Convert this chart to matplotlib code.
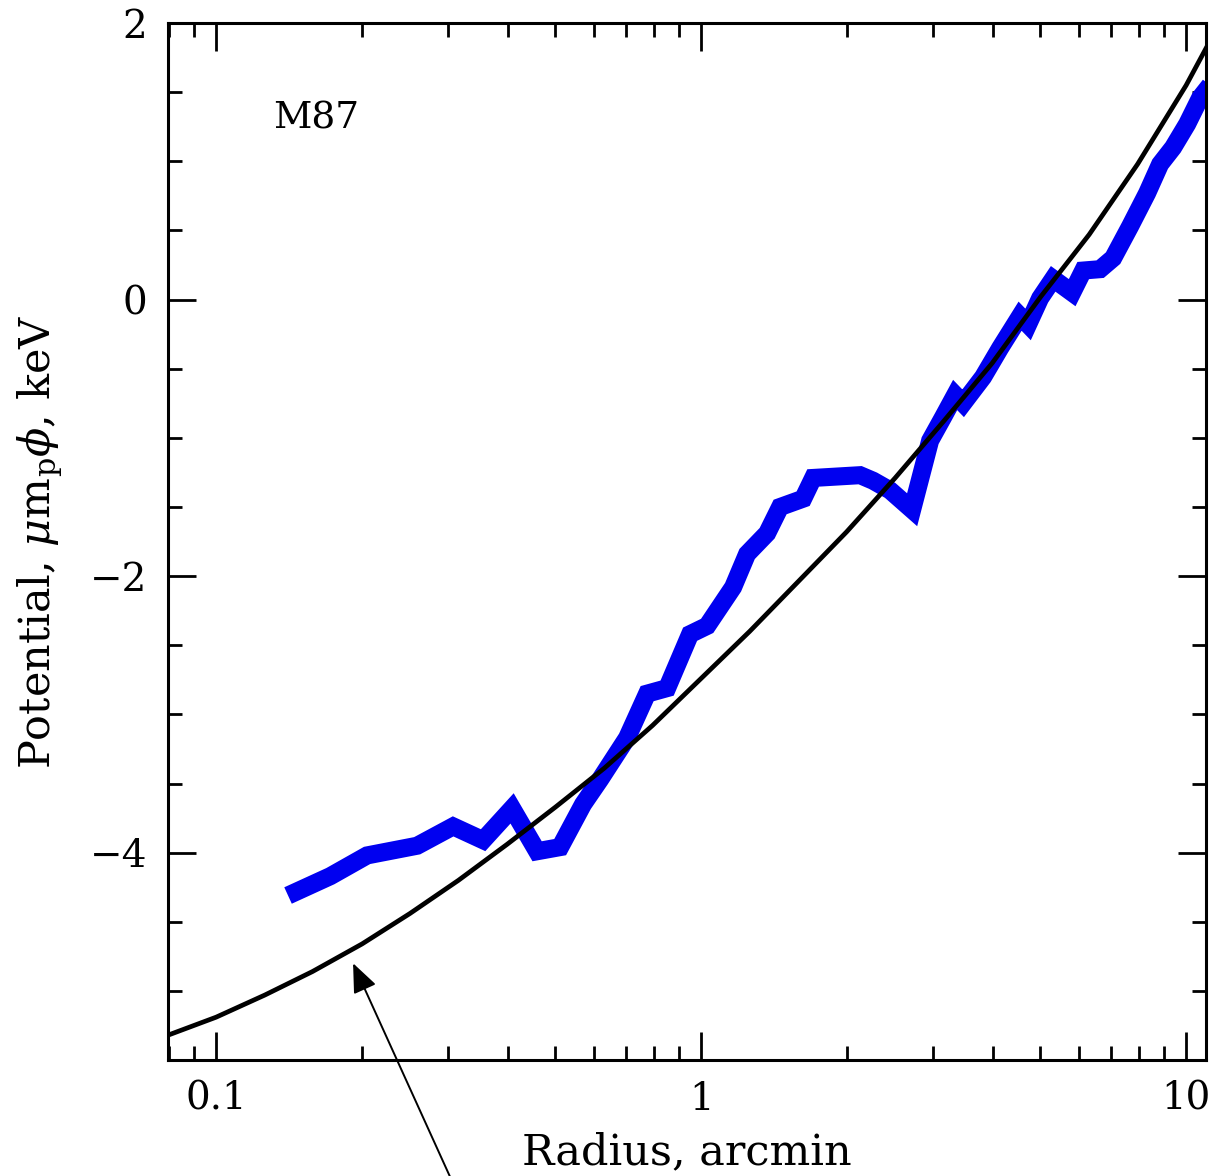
"""
M87 gravitational potential profile vs radius.
"""

import matplotlib
matplotlib.use("Agg")
import matplotlib.pyplot as plt
from matplotlib import ticker

# --------- data --------- #

# smooth model curve (black)
model_r = [0.0796, 0.1, 0.126, 0.158, 0.2, 0.251, 0.316, 0.398, 0.501,
           0.631, 0.794, 1.0, 1.259, 1.585, 1.995, 2.512, 3.162, 3.981,
           5.012, 6.31, 7.943, 10.0, 11.0]
model_phi = [-5.32, -5.19, -5.03, -4.86, -4.66, -4.44, -4.20, -3.94, -3.67,
             -3.39, -3.08, -2.74, -2.40, -2.04, -1.68, -1.29, -0.88, -0.46,
             0.02, 0.47, 0.98, 1.55, 1.82]

# measured profile (blue band)
data_r = [0.1407, 0.172, 0.2048, 0.2597, 0.3081, 0.3552, 0.4076, 0.4590,
          0.5121, 0.5710, 0.6192, 0.7036, 0.7739, 0.8509, 0.9490, 1.029,
          1.164, 1.244, 1.368, 1.455, 1.623, 1.702, 2.127, 2.262, 2.453,
          2.723, 2.966, 3.155, 3.340, 3.469, 3.814, 4.136, 4.546, 4.722,
          5.000, 5.319, 5.821, 6.134, 6.648, 7.07, 7.665, 8.31, 8.84, 9.40,
          10.05, 10.69, 11.2]
data_phi = [-4.31, -4.17, -4.02, -3.95, -3.81, -3.91, -3.68, -3.99,
            -3.96, -3.65, -3.47, -3.17, -2.85, -2.81, -2.42, -2.36,
            -2.08, -1.84, -1.69, -1.50, -1.44, -1.29, -1.27, -1.31, -1.38,
            -1.52, -1.02, -0.85, -0.69, -0.75, -0.56, -0.35, -0.12, -0.18,
            0.01, 0.15, 0.05, 0.21, 0.22, 0.30, 0.53, 0.77, 0.98, 1.10,
            1.27, 1.46, 1.55]

x_major = [0.1, 1, 10]

# --------- plot --------- #

plt.rcParams["font.family"] = ["DejaVu Serif"]
plt.rcParams["mathtext.fontset"] = "dejavuserif"

fig = plt.figure(figsize=(12.16, 11.76), dpi=100)
ax = fig.add_axes([0.1382, 0.0986, 0.8536, 0.8818])

ax.plot(data_r, data_phi, color="#0000f0", lw=13, solid_joinstyle="miter",
        solid_capstyle="butt", zorder=2)
ax.plot(model_r, model_phi, color="black", lw=3.4, zorder=3)

ax.set_xscale("log")
ax.set_xlim(0.0796, 10.99)
ax.set_ylim(-5.5, 2.0)

ax.xaxis.set_major_locator(ticker.FixedLocator(x_major))
ax.xaxis.set_major_formatter(ticker.FuncFormatter(lambda v, p: f"{v:g}"))
ax.xaxis.set_minor_locator(ticker.LogLocator(base=10, subs=range(2, 10)))
ax.xaxis.set_minor_formatter(ticker.NullFormatter())
ax.yaxis.set_major_locator(ticker.MultipleLocator(2))
ax.yaxis.set_minor_locator(ticker.MultipleLocator(0.5))

for s in ax.spines.values():
    s.set_linewidth(2.2)
ax.tick_params(which="both", direction="in", top=True, right=True,
               width=2.0, labelsize=28, pad=15)
ax.tick_params(which="major", length=20)
ax.tick_params(which="minor", length=10)

ax.set_xlabel("Radius, arcmin", fontsize=31, labelpad=10)
ax.set_ylabel(r"Potential, $\mu{\rm m_p}\phi$, keV", fontsize=31, labelpad=18)

ax.text(0.131, 1.237, "M87", fontsize=27, ha="left", va="baseline")

ax.annotate("", xy=(0.1916, -4.80), xycoords="data",
            xytext=(0.372, -0.005), textcoords="figure fraction",
            arrowprops=dict(arrowstyle="-|>,head_length=0.6,head_width=0.25",
                            color="black", lw=1.4,
                            mutation_scale=30, shrinkA=0, shrinkB=0),
            annotation_clip=False)

fig.savefig("out.png", dpi=100)
